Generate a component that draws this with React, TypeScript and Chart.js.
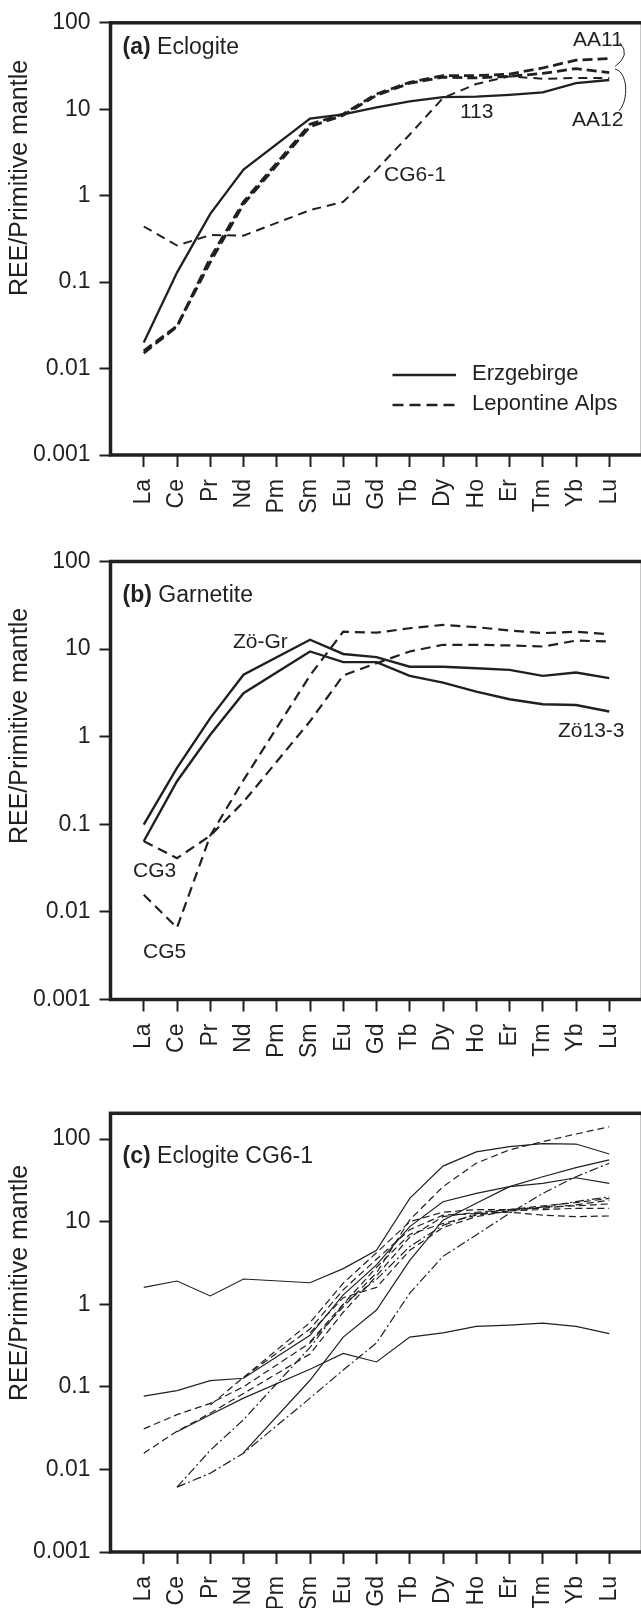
import React, { useEffect, useRef } from "react";
import { Chart, registerables } from "chart.js";

Chart.register(...registerables);

// ---------- data ----------
const REE = ["La", "Ce", "Pr", "Nd", "Pm", "Sm", "Eu", "Gd", "Tb", "Dy", "Ho", "Er", "Tm", "Yb", "Lu"];
const yTickValues = [0.001, 0.01, 0.1, 1, 10, 100];
const yTickLabels = ["0.001", "0.01", "0.1", "1", "10", "100"];

// (a) Eclogite
const a_113 = [0.02, 0.129, 0.615, 2.0, null, 7.8, 8.7, 10.5, 12.3, 13.8, 14.0, 14.7, 15.7, 20, 21.8];
const a_AA11 = [0.0151, 0.0305, 0.19, 0.85, null, 6.7, 8.8, 15, 20.5, 24.5, 24.5, 25.5, 30, 37, 38.5];
const a_AA12 = [0.016, 0.031, 0.17, 0.8, null, 6.3, 8.5, 14.5, 20, 23.5, 23, 24, 26, 29.5, 26.5];
const a_CG61 = [0.44, 0.265, 0.35, 0.345, null, 0.68, 0.85, 2.0, 5.1, 13.5, 19.6, 24, 22.5, 23, 23];

// (b) Garnetite
const b_ZoGr = [0.099, 0.44, 1.63, 5.1, null, 12.8, 8.8, 8.1, 6.3, 6.3, 6.05, 5.8, 4.95, 5.4, 4.66];
const b_Zo13_3 = [0.064, 0.31, 1.05, 3.14, null, 9.4, 7.1, 7.1, 4.95, 4.15, 3.27, 2.68, 2.35, 2.3, 1.94];
const b_CG3 = [0.064, 0.041, 0.074, 0.18, null, 1.5, 5.0, 6.9, 9.4, 11.2, 11.2, 11, 10.7, 12.5, 12.2];
const b_CG5 = [0.0157, 0.0066, 0.074, 0.32, null, 5.0, 15.8, 15.4, 17.3, 18.9, 17.8, 16.3, 15.2, 15.8, 14.8];

// (c) Eclogite CG6-1
const c_S1 = [1.6, 1.91, 1.26, 2.02, null, 1.82, 2.7, 4.5, 19.1, 47, 70, 81, 88, 87, 66];
const c_S2 = [0.077, 0.09, 0.119, 0.127, null, 0.42, 1.3, 3.0, 8.7, 17.4, 22, 26.5, 29, 34, 29];
const c_S3 = [null, 0.0286, 0.046, 0.073, null, 0.163, 0.254, 0.2, 0.4, 0.45, 0.54, 0.56, 0.59, 0.54, 0.44];
const c_S4 = [null, null, null, 0.016, null, 0.12, 0.4, 0.85, 3.4, 10.4, 16.7, 26.5, 35, 45, 56];
const c_D1 = [0.031, 0.046, 0.063, 0.1, null, 0.34, 0.93, 2.4, 10.5, 26.5, 51, 74, 93, 115, 141];
const c_D2 = [0.0157, 0.029, 0.048, 0.083, null, 0.25, 0.8, 2.2, 6.5, 11.5, 13, 14, 15.5, 17, 19.1];
const c_D3 = [null, null, 0.06, 0.13, null, 0.5, 1.5, 3.5, 8, 12, 12.5, 13, 12, 11.5, 11.7];
const c_D4 = [null, null, null, 0.13, null, 0.6, 1.8, 4.2, 10, 13, 14, 14, 14.5, 16, 18.2];
const c_D5 = [null, null, null, null, null, 0.35, 1.0, 2.8, 7, 9.5, 12, 13.5, 15, 15.5, 16.4];
const c_D6 = [null, null, null, null, null, 0.45, 1.2, 1.6, 4.5, 8.5, 11.5, 13.5, 14, 14.5, 14.5];
const c_DD1 = [null, 0.0061, 0.009, 0.0157, null, 0.073, 0.16, 0.34, 1.36, 3.8, 6.9, 12.6, 22, 35, 51];
const c_DD2 = [null, 0.0061, 0.017, 0.04, null, 0.3, 1.0, 2.0, 5, 9, 12.5, 14, 15, 17.5, 20];

// ---------- styles ----------
const INK = "#231f20";
const FONT = "'Liberation Sans', Arial, Helvetica, sans-serif";
const CANVAS_W = 660;

const STYLES: Record<string, { w: number; dash: number[] }> = {
  solidA: { w: 2.3, dash: [] },
  dashHeavy: { w: 2.8, dash: [10, 5] },
  dashA: { w: 2.0, dash: [9, 6] },
  solidB: { w: 2.4, dash: [] },
  dashB: { w: 2.2, dash: [10, 6] },
  thin: { w: 1.2, dash: [] },
  thinDash: { w: 1.2, dash: [7, 4] },
  thinDashDot: { w: 1.2, dash: [9, 3, 2, 3] },
};

type TextItem = { text: string; x: number; y: number; size: number; bold?: boolean };

type PanelDef = {
  top: number;
  height: number;
  padTop: number;
  xAxisH: number;
  yMax: number;
  series: { values: (number | null)[]; style: string }[];
  titleBold: string;
  titleRest: string;
  titleY: number;
  yTitleY: number;
  labels: TextItem[];
  legend?: boolean;
  brackets?: boolean;
};

const PANELS: PanelDef[] = [
  {
    top: 0, height: 530, padTop: 17, xAxisH: 75, yMax: 100,
    series: [
      { values: a_113, style: "solidA" },
      { values: a_AA11, style: "dashHeavy" },
      { values: a_AA12, style: "dashHeavy" },
      { values: a_CG61, style: "dashA" },
    ],
    titleBold: "(a)", titleRest: " Eclogite", titleY: 48, yTitleY: 178,
    labels: [
      { text: "113", x: 460, y: 112, size: 21 },
      { text: "CG6-1", x: 384, y: 175, size: 21 },
      { text: "AA11", x: 573, y: 40, size: 21 },
      { text: "AA12", x: 572, y: 120, size: 21 },
    ],
    legend: true, brackets: true,
  },
  {
    top: 530, height: 540, padTop: 31.5, xAxisH: 70.5, yMax: 100,
    series: [
      { values: b_ZoGr, style: "solidB" },
      { values: b_Zo13_3, style: "solidB" },
      { values: b_CG3, style: "dashB" },
      { values: b_CG5, style: "dashB" },
    ],
    titleBold: "(b)", titleRest: " Garnetite", titleY: 596, yTitleY: 726,
    labels: [
      { text: "Zö-Gr", x: 233, y: 642, size: 21 },
      { text: "CG3", x: 133, y: 871, size: 21 },
      { text: "CG5", x: 143, y: 952, size: 21 },
      { text: "Zö13-3", x: 558, y: 731, size: 21 },
    ],
  },
  {
    top: 1070, height: 538, padTop: 43.3, xAxisH: 56, yMax: 205,
    series: [
      { values: c_S1, style: "thin" },
      { values: c_S2, style: "thin" },
      { values: c_S3, style: "thin" },
      { values: c_S4, style: "thin" },
      { values: c_D1, style: "thinDash" },
      { values: c_D2, style: "thinDash" },
      { values: c_D3, style: "thinDash" },
      { values: c_D4, style: "thinDash" },
      { values: c_D5, style: "thinDash" },
      { values: c_D6, style: "thinDash" },
      { values: c_DD1, style: "thinDashDot" },
      { values: c_DD2, style: "thinDashDot" },
    ],
    titleBold: "(c)", titleRest: " Eclogite CG6-1", titleY: 1157, yTitleY: 1283,
    labels: [],
  },
];

function overlayPlugin(p: PanelDef) {
  return {
    id: "overlay",
    afterDraw(chart: any) {
      const ctx = chart.ctx as CanvasRenderingContext2D;
      const ca = chart.chartArea;
      const oy = p.top;
      ctx.save();
      // frame
      ctx.strokeStyle = INK;
      ctx.lineWidth = 3.5;
      ctx.setLineDash([]);
      ctx.strokeRect(ca.left, ca.top, ca.right - ca.left, ca.bottom - ca.top);

      ctx.fillStyle = INK;
      ctx.textBaseline = "middle";
      ctx.textAlign = "left";
      // title
      ctx.font = `bold 23px ${FONT}`;
      ctx.fillText(p.titleBold, 122.6, p.titleY - oy);
      const bw = ctx.measureText(p.titleBold).width;
      ctx.font = `23px ${FONT}`;
      ctx.fillText(p.titleRest, 122.6 + bw, p.titleY - oy);

      // annotations
      for (const l of p.labels) {
        ctx.font = `${l.bold ? "bold " : ""}${l.size}px ${FONT}`;
        ctx.fillText(l.text, l.x, l.y - oy);
      }

      // y axis title
      ctx.save();
      ctx.translate(20, p.yTitleY - oy);
      ctx.rotate(-Math.PI / 2);
      ctx.textAlign = "center";
      ctx.font = `25px ${FONT}`;
      ctx.fillText("REE/Primitive mantle", 0, 0);
      ctx.restore();

      if (p.legend) {
        ctx.lineWidth = 2.5;
        ctx.strokeStyle = INK;
        ctx.beginPath();
        ctx.moveTo(392.5, 375 - oy);
        ctx.lineTo(456, 375 - oy);
        ctx.stroke();
        ctx.setLineDash([11, 6]);
        ctx.beginPath();
        ctx.moveTo(392.5, 405 - oy);
        ctx.lineTo(458, 405 - oy);
        ctx.stroke();
        ctx.setLineDash([]);
        ctx.font = `22px ${FONT}`;
        ctx.fillText("Erzgebirge", 472, 374 - oy);
        ctx.fillText("Lepontine Alps", 472, 404 - oy);
      }
      if (p.brackets) {
        ctx.lineWidth = 1;
        ctx.beginPath();
        ctx.moveTo(620, 43 - oy);
        ctx.quadraticCurveTo(631, 55 - oy, 615, 66.5 - oy);
        ctx.stroke();
        ctx.beginPath();
        ctx.moveTo(615, 69 - oy);
        ctx.bezierCurveTo(628, 72 - oy, 629, 100 - oy, 619, 111 - oy);
        ctx.stroke();
      }
      ctx.restore();
    },
  };
}

function buildConfig(p: PanelDef): any {
  return {
    type: "line",
    data: {
      datasets: p.series.map((s) => ({
        data: s.values.map((v, i) => ({ x: i, y: v })),
        borderColor: INK,
        borderWidth: STYLES[s.style].w,
        borderDash: STYLES[s.style].dash,
        pointRadius: 0,
        tension: 0,
        fill: false,
        spanGaps: true,
      })),
    },
    options: {
      responsive: false,
      animation: false,
      devicePixelRatio: 1,
      layout: { padding: { top: p.padTop, right: CANVAS_W - 642.5, left: 0, bottom: 0 } },
      plugins: { legend: { display: false }, tooltip: { enabled: false }, title: { display: false } },
      scales: {
        x: {
          type: "linear",
          min: -1,
          max: 15,
          afterBuildTicks: (s: any) => {
            s.ticks = REE.map((_, i) => ({ value: i }));
          },
          afterFit: (s: any) => {
            s.height = p.xAxisH;
          },
          border: { display: false },
          grid: { drawOnChartArea: false, drawTicks: true, tickLength: 12, tickWidth: 2, tickColor: INK, lineWidth: 1 },
          ticks: {
            autoSkip: false,
            minRotation: 90,
            maxRotation: 90,
            padding: 12,
            color: INK,
            font: { size: 23, family: FONT },
            callback: (v: any) => REE[v] ?? "",
          },
        },
        y: {
          type: "logarithmic",
          min: 0.001,
          max: p.yMax,
          afterBuildTicks: (s: any) => {
            s.ticks = yTickValues.map((v) => ({ value: v, major: true }));
          },
          afterFit: (s: any) => {
            s.width = 110.5;
          },
          border: { display: false },
          grid: { drawOnChartArea: false, drawTicks: true, tickLength: 11, tickWidth: 2, tickColor: INK, lineWidth: 1 },
          ticks: {
            autoSkip: false,
            padding: 9,
            color: INK,
            font: { size: 23, family: FONT },
            callback: (v: any) => {
              const k = yTickValues.indexOf(v);
              return k >= 0 ? yTickLabels[k] : "";
            },
          },
        },
      },
    },
    plugins: [overlayPlugin(p)],
  };
}

function Panel({ p }: { p: PanelDef }) {
  const ref = useRef<HTMLCanvasElement | null>(null);
  useEffect(() => {
    if (!ref.current) return;
    const chart = new Chart(ref.current, buildConfig(p));
    return () => chart.destroy();
  }, [p]);
  return (
    <canvas
      ref={ref}
      width={CANVAS_W}
      height={p.height}
      style={{ position: "absolute", left: 0, top: p.top, width: CANVAS_W, height: p.height, display: "block" }}
    />
  );
}

export default function App() {
  return (
    <div
      style={{
        position: "absolute",
        left: 0,
        top: 0,
        width: 641,
        height: 1608,
        overflow: "hidden",
        background: "#ffffff",
      }}
    >
      {PANELS.map((p, i) => (
        <Panel key={i} p={p} />
      ))}
    </div>
  );
}
